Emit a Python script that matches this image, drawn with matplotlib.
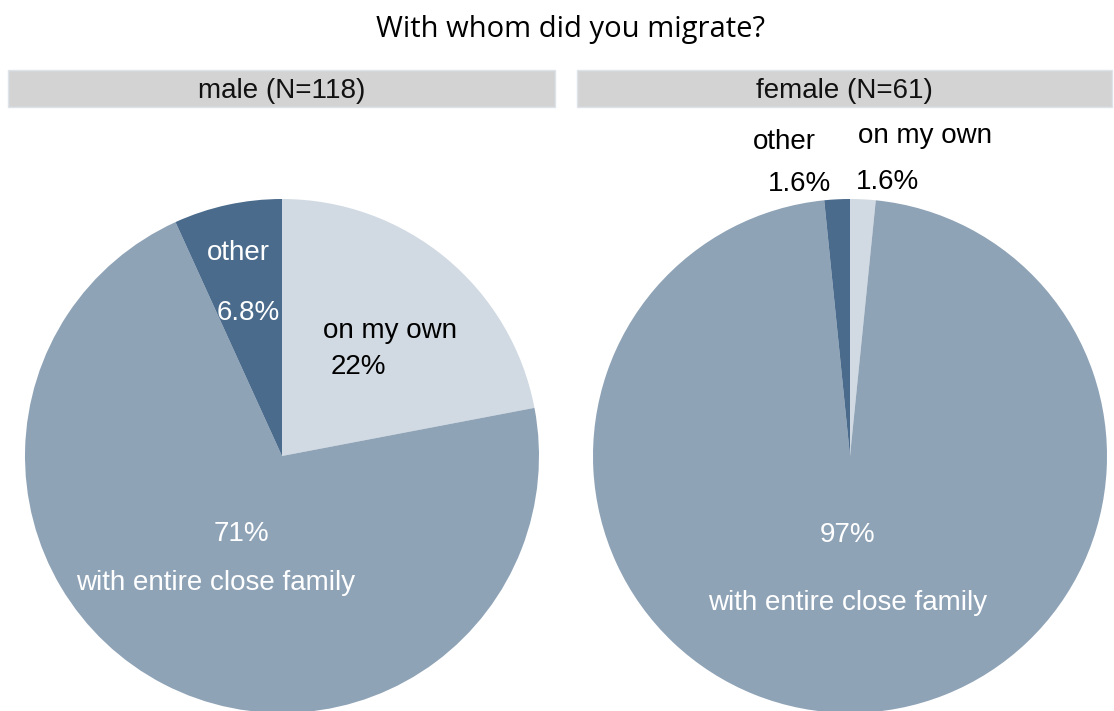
import matplotlib
matplotlib.use("Agg")
import matplotlib.pyplot as plt
from matplotlib.patches import Rectangle

W, H = 1114, 711
title = "With whom did you migrate?"
panels = ["male (N=118)", "female (N=61)"]
categories = ["on my own", "with entire close family", "other"]
male_values = [22.0, 71.2, 6.8]
female_values = [1.6, 96.8, 1.6]
male_pct = ["22%", "71%", "6.8%"]
female_pct = ["1.6%", "97%", "1.6%"]
colors = ["#d1dae3", "#8fa3b7", "#4a6b8c"]

plt.rcParams['font.family'] = ['Liberation Sans', 'DejaVu Sans']
fig = plt.figure(figsize=(W / 100, H / 100), dpi=100)

fig.text(571 / W, 1 - 29 / H, title, ha='center', va='center', fontsize=21,
         family=['Open Sans', 'DejaVu Sans'], color='black')

# strips
strips = [(8, 555), (577, 1112)]
for (x0, x1), lab in zip(strips, panels):
    fig.patches.append(Rectangle((x0 / W, 1 - 107 / H), (x1 - x0) / W, 37 / H,
                                 transform=fig.transFigure, facecolor='#d3d3d3',
                                 edgecolor='#dde3e8', lw=1))
    fig.text((x0 + x1) / 2 / W, 1 - 91 / H, lab, ha='center', va='center',
             fontsize=20, color='#111111')

R = 257
centers = [(282, 456), (850, 456)]
datasets = [male_values, female_values]
pcts = [male_pct, female_pct]
label_pos = [
    {0: ((0.42, 0.488), (0.296, 0.346), 'black'),
     1: ((-0.257, -0.494), (-0.156, -0.304), 'white'),
     2: ((-0.171, 0.788), (-0.132, 0.556), 'white')},
    {0: ((0.292, 1.245), (0.144, 1.066), 'black'),
     1: ((-0.008, -0.572), (-0.008, -0.308), 'white'),
     2: ((-0.257, 1.221), (-0.195, 1.058), 'black')},
]
for (cx, cy), vals, pc, lp in zip(centers, datasets, pcts, label_pos):
    ax = fig.add_axes([(cx - R) / W, (H - cy - R) / H, 2 * R / W, 2 * R / H])
    ax.pie(vals, colors=colors, startangle=90, counterclock=False, radius=1,
           wedgeprops=dict(linewidth=0))
    ax.set_xlim(-1, 1)
    ax.set_ylim(-1, 1)
    ax.set_aspect('auto')
    ax.axis('off')
    for i, cat in enumerate(categories):
        (nx, ny), (px, py), col = lp[i]
        ax.text(nx, ny, cat, ha='center', va='center', fontsize=20, color=col, clip_on=False)
        ax.text(px, py, pc[i], ha='center', va='center', fontsize=20, color=col, clip_on=False)

fig.savefig("out.png", dpi=100)
